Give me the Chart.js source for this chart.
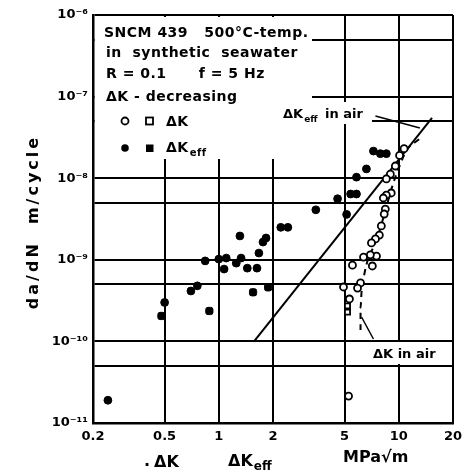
<!DOCTYPE html>
<html>
<head>
<meta charset="utf-8">
<script src="https://cdn.jsdelivr.net/npm/chart.js@4.4.1/dist/chart.umd.min.js"></script>
<style>
  html, body { margin: 0; padding: 0; background: #fff; }
</style>
</head>
<body>
<canvas id="c" width="468" height="475"></canvas>
<script>
// tick values / labels
const xTickVals = [0.2, 0.5, 1, 2, 5, 10, 20];
const xTickLabels = ['0.2', '0.5', '1', '2', '5', '10', '20'];
const yTickVals = [1e-11, 5e-11, 1e-10, 5e-10, 1e-9, 5e-9, 1e-8, 5e-8, 1e-7, 5e-7, 1e-6];
const yTickLabels = ['10⁻¹¹', '', '10⁻¹⁰', '', '10⁻⁹', '', '10⁻⁸', '', '10⁻⁷', '', '10⁻⁶'];

// ΔKeff, circles (filled)
const effCircK = [0.242, 0.50, 0.70, 0.76, 0.84, 1.0, 1.10, 1.07, 1.25, 1.33, 1.31, 1.44, 1.63, 1.67, 1.76, 1.83, 2.21, 2.42, 3.46, 4.57, 5.13, 5.40, 5.82, 5.82, 6.61, 7.23, 7.90, 8.53];
const effCircR = [1.9e-11, 3.0e-10, 4.15e-10, 4.8e-10, 9.7e-10, 1.02e-9, 1.05e-9, 7.7e-10, 9.1e-10, 1.05e-9, 1.96e-9, 7.9e-10, 7.9e-10, 1.21e-9, 1.65e-9, 1.85e-9, 2.5e-9, 2.5e-9, 4.1e-9, 5.6e-9, 3.6e-9, 6.4e-9, 6.4e-9, 1.03e-8, 1.3e-8, 2.15e-8, 2.0e-8, 2.0e-8];

// ΔKeff, squares (filled)
const effSqK = [0.48, 0.886, 1.55, 1.88];
const effSqR = [2.05e-10, 2.36e-10, 4.0e-10, 4.6e-10];

// ΔK, circles (open)
const dkCircK = [10.7, 10.1, 9.57, 8.98, 8.53, 9.08, 8.53, 8.21, 8.42, 8.3, 8.0, 7.80, 7.42, 7.05, 7.52, 6.95, 6.37, 7.13, 5.53, 6.13, 5.90, 4.93, 5.32, 5.26];
const dkCircR = [2.3e-8, 1.9e-8, 1.41e-8, 1.12e-8, 9.8e-9, 6.59e-9, 6.22e-9, 5.72e-9, 4.19e-9, 3.64e-9, 2.6e-9, 2.01e-9, 1.8e-9, 1.61e-9, 1.11e-9, 1.15e-9, 1.08e-9, 8.4e-10, 8.6e-10, 5.2e-10, 4.5e-10, 4.64e-10, 3.31e-10, 2.14e-11];

// ΔK, squares (open)
const dkSqK = [5.19, 5.19];
const dkSqR = [2.72e-10, 2.29e-10];

// reference curves in air
const effAirK = [1.57, 15.3];
const effAirR = [1.0e-10, 5.5e-8];
const dkAirK = [6.13, 6.13, 6.21, 6.44, 6.78, 7.33, 7.90, 8.53, 9.21, 10.1, 11.1, 12.98];
const dkAirR = [1.38e-10, 2.57e-10, 4.03e-10, 6.7e-10, 1.05e-9, 1.52e-9, 2.45e-9, 4.44e-9, 8.0e-9, 1.41e-8, 2.22e-8, 3.0e-8];

// label pointers
const effPtrK = [7.42, 13.1];
const effPtrR = [5.78e-8, 4.12e-8];
const dkPtrK = [6.21, 7.23];
const dkPtrR = [1.99e-10, 1.07e-10];

const pts = (xs, ys) => xs.map((x, i) => ({ x: x, y: ys[i] }));
const FONT = '"DejaVu Sans", sans-serif';

const lineSet = (xs, ys, dash) => ({
  data: pts(xs, ys),
  showLine: true,
  borderColor: '#000',
  borderWidth: 2,
  borderDash: dash || [],
  pointRadius: 0,
  fill: false,
});

// write text with a lowered subscript
const withSub = (ctx, main, sub, x, y, size) => {
  ctx.font = 'bold ' + size + 'px ' + FONT;
  ctx.fillText(main, x, y);
  const w = ctx.measureText(main).width;
  ctx.font = 'bold ' + Math.round(size * 0.72) + 'px ' + FONT;
  ctx.fillText(sub, x + w + 1, y + 4);
  ctx.font = 'bold ' + size + 'px ' + FONT;
};

const notes = {
  id: 'notes',
  beforeDatasetsDraw(chart) {
    const ctx = chart.ctx;
    const a = chart.chartArea;
    ctx.save();
    ctx.fillStyle = '#fff';
    ctx.fillRect(a.left + 2, a.top + 2, 217, 142);
    ctx.fillRect(280, 102, 92, 22);
    ctx.fillRect(370, 342, 72, 22);
    ctx.restore();
  },
  afterDraw(chart) {
    const ctx = chart.ctx;
    ctx.save();
    ctx.fillStyle = '#000';
    ctx.strokeStyle = '#000';
    ctx.textBaseline = 'alphabetic';
    ctx.letterSpacing = '0.5px';
    ctx.font = 'bold 14px ' + FONT;
    ctx.fillText('SNCM 439   500°C-temp.', 104, 37);
    ctx.fillText('in  synthetic  seawater', 106, 57);
    ctx.fillText('R = 0.1      f = 5 Hz', 106, 78);
    ctx.fillText('ΔK - decreasing', 106, 101);

    // legend symbols
    ctx.lineWidth = 1.8;
    ctx.beginPath(); ctx.arc(125, 121, 3.5, 0, Math.PI * 2); ctx.stroke();
    ctx.strokeRect(146, 117.5, 7, 7);
    ctx.fillText('ΔK', 166, 126);
    ctx.beginPath(); ctx.arc(125, 148, 3.8, 0, Math.PI * 2); ctx.fill();
    ctx.fillRect(146, 144.5, 7.5, 7.5);
    withSub(ctx, 'ΔK', 'eff', 166, 152, 14);
    ctx.letterSpacing = '0px';

    // curve labels
    withSub(ctx, 'ΔK', 'eff', 283, 118, 13);
    ctx.font = 'bold 13px ' + FONT;
    ctx.fillText('in air', 325, 118);
    ctx.fillText('ΔK in air', 373, 358);

    // axis titles
    ctx.font = 'bold 16px ' + FONT;
    ctx.fillText('.', 144, 466);
    ctx.fillText('ΔK', 154, 467);
    withSub(ctx, 'ΔK', 'eff', 228, 466, 16);
    ctx.fillText('MPa√m', 343, 462);

    ctx.translate(38, 222);
    ctx.rotate(-Math.PI / 2);
    ctx.textAlign = 'center';
    ctx.letterSpacing = '3px';
    ctx.font = 'bold 16px ' + FONT;
    ctx.fillText('da/dN  m/cycle', 0, 0);
    ctx.restore();
  }
};

new Chart(document.getElementById('c'), {
  type: 'scatter',
  data: {
    datasets: [
      { data: pts(effCircK, effCircR), pointStyle: 'circle', pointRadius: 3.9, backgroundColor: '#000', borderColor: '#000', borderWidth: 1 },
      { data: pts(effSqK, effSqR), pointStyle: 'rectRounded', pointRadius: 4.2, backgroundColor: '#000', borderColor: '#000', borderWidth: 1 },
      { data: pts(dkCircK, dkCircR), pointStyle: 'circle', pointRadius: 3.5, backgroundColor: '#fff', borderColor: '#000', borderWidth: 1.8 },
      { data: pts(dkSqK, dkSqR), pointStyle: 'rect', pointRadius: 3.6, backgroundColor: '#fff', borderColor: '#000', borderWidth: 1.8 },
      lineSet(effAirK, effAirR),
      Object.assign(lineSet(dkAirK, dkAirR, [6, 5]), { tension: 0.4, cubicInterpolationMode: 'monotone' }),
      Object.assign(lineSet(effPtrK, effPtrR), { borderWidth: 1.5 }),
      Object.assign(lineSet(dkPtrK, dkPtrR), { borderWidth: 1.5 }),
    ]
  },
  options: {
    responsive: false,
    animation: false,
    layout: { padding: { top: 15, right: 13, left: 0, bottom: 0 } },
    plugins: { legend: { display: false }, tooltip: { enabled: false } },
    scales: {
      x: {
        type: 'logarithmic',
        min: 0.2,
        max: 20,
        afterBuildTicks: (s) => { s.ticks = xTickVals.map(v => ({ value: v })); },
        afterFit: (s) => { s.height = 52; },
        ticks: {
          color: '#000',
          font: { family: FONT, size: 13, weight: 'bold' },
          padding: 6,
          maxRotation: 0,
          autoSkip: false,
          callback: (v) => { const i = xTickVals.indexOf(v); return i >= 0 ? xTickLabels[i] : ''; }
        },
        grid: { color: '#000', lineWidth: 2, drawTicks: false },
        border: { color: '#000', width: 2.5 }
      },
      y: {
        type: 'logarithmic',
        min: 1e-11,
        max: 1e-6,
        afterBuildTicks: (s) => { s.ticks = yTickVals.map(v => ({ value: v })); },
        afterFit: (s) => { s.width = 93; },
        ticks: {
          color: '#000',
          font: { family: FONT, size: 13, weight: 'bold' },
          padding: 5,
          autoSkip: false,
          callback: (v) => { const i = yTickVals.findIndex(t => Math.abs(t - v) / t < 1e-6); return i >= 0 ? yTickLabels[i] : ''; }
        },
        grid: { color: '#000', lineWidth: 2, drawTicks: false },
        border: { color: '#000', width: 2.5 }
      }
    }
  },
  plugins: [notes]
});
</script>
</body>
</html>
